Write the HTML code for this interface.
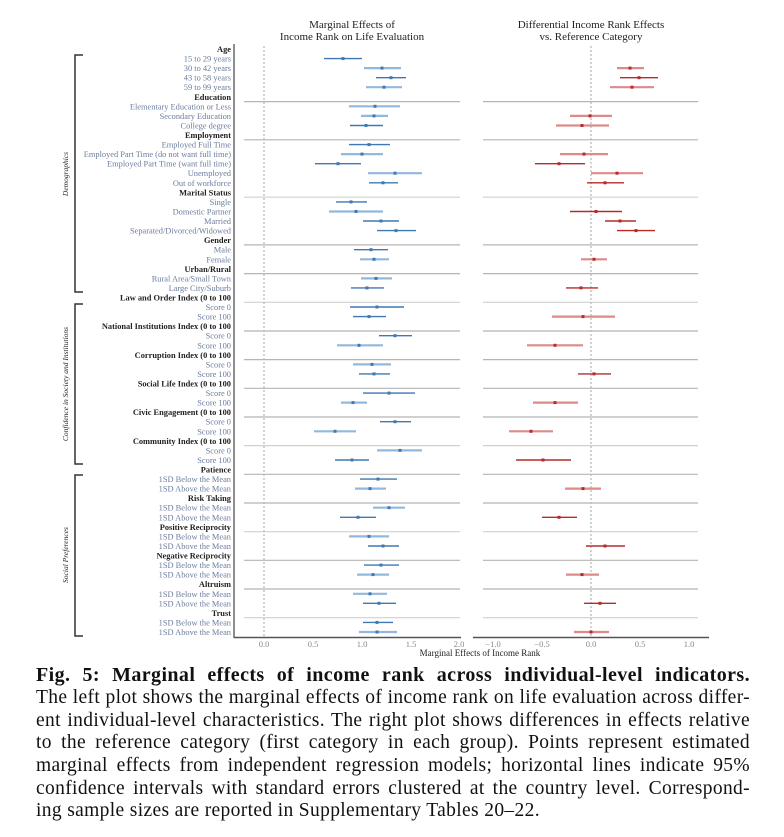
<!DOCTYPE html>
<html><head><meta charset="utf-8"><style>
html,body{margin:0;padding:0;background:#fff;}
body{width:784px;height:837px;position:relative;overflow:hidden;font-family:"Liberation Serif",serif;}
svg{position:absolute;left:0;top:0;}
.cap{position:absolute;left:36px;width:714px;font-size:19.5px;letter-spacing:0.35px;line-height:22.7px;color:#111;text-align:justify;text-align-last:justify;white-space:nowrap;}
</style></head><body>
<svg width="784" height="660" viewBox="0 0 784 660" font-family="Liberation Serif, serif">
<g font-size="11" fill="#222" text-anchor="middle">
<text x="352" y="28">Marginal Effects of</text>
<text x="352" y="40">Income Rank on Life Evaluation</text>
<text x="591" y="28">Differential Income Rank Effects</text>
<text x="591" y="40">vs. Reference Category</text>
</g>
<g stroke="#b5b5b5" stroke-width="1.2">
<line x1="244" x2="460" y1="101.6" y2="101.6"/><line x1="483" x2="698" y1="101.6" y2="101.6"/>
<line x1="244" x2="460" y1="139.8" y2="139.8"/><line x1="483" x2="698" y1="139.8" y2="139.8"/>
<line x1="244" x2="460" y1="197.2" y2="197.2" stroke="#d0d0d0"/><line x1="483" x2="698" y1="197.2" y2="197.2" stroke="#d0d0d0"/>
<line x1="244" x2="460" y1="244.9" y2="244.9"/><line x1="483" x2="698" y1="244.9" y2="244.9"/>
<line x1="244" x2="460" y1="273.6" y2="273.6"/><line x1="483" x2="698" y1="273.6" y2="273.6"/>
<line x1="244" x2="460" y1="302.3" y2="302.3" stroke="#d0d0d0"/><line x1="483" x2="698" y1="302.3" y2="302.3" stroke="#d0d0d0"/>
<line x1="244" x2="460" y1="331" y2="331"/><line x1="483" x2="698" y1="331" y2="331"/>
<line x1="244" x2="460" y1="359.6" y2="359.6"/><line x1="483" x2="698" y1="359.6" y2="359.6"/>
<line x1="244" x2="460" y1="388.3" y2="388.3"/><line x1="483" x2="698" y1="388.3" y2="388.3"/>
<line x1="244" x2="460" y1="417" y2="417"/><line x1="483" x2="698" y1="417" y2="417"/>
<line x1="244" x2="460" y1="445.6" y2="445.6" stroke="#d0d0d0"/><line x1="483" x2="698" y1="445.6" y2="445.6" stroke="#d0d0d0"/>
<line x1="244" x2="460" y1="474.3" y2="474.3"/><line x1="483" x2="698" y1="474.3" y2="474.3"/>
<line x1="244" x2="460" y1="503" y2="503"/><line x1="483" x2="698" y1="503" y2="503"/>
<line x1="244" x2="460" y1="531.7" y2="531.7" stroke="#d0d0d0"/><line x1="483" x2="698" y1="531.7" y2="531.7" stroke="#d0d0d0"/>
<line x1="244" x2="460" y1="560.3" y2="560.3"/><line x1="483" x2="698" y1="560.3" y2="560.3"/>
<line x1="244" x2="460" y1="589" y2="589"/><line x1="483" x2="698" y1="589" y2="589"/>
<line x1="244" x2="460" y1="617.7" y2="617.7" stroke="#d0d0d0"/><line x1="483" x2="698" y1="617.7" y2="617.7" stroke="#d0d0d0"/>
</g>
<line x1="264" x2="264" y1="46" y2="636" stroke="#bbb" stroke-width="1.3" stroke-dasharray="2,2"/>
<line x1="591" x2="591" y1="46" y2="636" stroke="#bbb" stroke-width="1.3" stroke-dasharray="2,2"/>
<line x1="234" x2="234" y1="44" y2="638" stroke="#444" stroke-width="1.2"/>
<line x1="234" x2="461" y1="637.5" y2="637.5" stroke="#555" stroke-width="1.5"/>
<line x1="473" x2="709" y1="637.5" y2="637.5" stroke="#555" stroke-width="1.5"/>
<g font-size="8.5" fill="#888" text-anchor="middle">
<text x="264" y="647">0.0</text><text x="313" y="647">0.5</text><text x="362" y="647">1.0</text><text x="411" y="647">1.5</text><text x="459" y="647">2.0</text>
<text x="493" y="647">−1.0</text><text x="542" y="647">−0.5</text><text x="591" y="647">0.0</text><text x="640" y="647">0.5</text><text x="689" y="647">1.0</text>
</g>
<text x="480" y="656" font-size="9" fill="#222" text-anchor="middle">Marginal Effects of Income Rank</text>
<g stroke="#333" stroke-width="1.5" fill="none">
<path d="M83,55 H75 V292 H83"/>
<path d="M83,304 H75 V464 H83"/>
<path d="M83,475 H75 V636 H83"/>
</g>
<g font-size="7.5" font-style="italic" fill="#222" text-anchor="middle">
<text transform="translate(68,174) rotate(-90)">Demographics</text>
<text transform="translate(68,384) rotate(-90)">Confidence in Society and Institutions</text>
<text transform="translate(68,555) rotate(-90)">Social Preferences</text>
</g>
<g font-size="8.4" text-anchor="end" fill="#6b7d9e">
<g font-weight="bold" fill="#222">
<text x="231" y="52">Age</text>
<text x="231" y="99.8">Education</text>
<text x="231" y="138">Employment</text>
<text x="231" y="195.4">Marital Status</text>
<text x="231" y="243.1">Gender</text>
<text x="231" y="271.8">Urban/Rural</text>
<text x="231" y="300.5">Law and Order Index (0 to 100</text>
<text x="231" y="329.2">National Institutions Index (0 to 100</text>
<text x="231" y="357.8">Corruption Index (0 to 100</text>
<text x="231" y="386.5">Social Life Index (0 to 100</text>
<text x="231" y="415.2">Civic Engagement (0 to 100</text>
<text x="231" y="443.8">Community Index (0 to 100</text>
<text x="231" y="472.5">Patience</text>
<text x="231" y="501.2">Risk Taking</text>
<text x="231" y="529.9">Positive Reciprocity</text>
<text x="231" y="558.5">Negative Reciprocity</text>
<text x="231" y="587.2">Altruism</text>
<text x="231" y="615.9">Trust</text>
</g>
<text x="231" y="61.6">15 to 29 years</text>
<text x="231" y="71.1">30 to 42 years</text>
<text x="231" y="80.7">43 to 58 years</text>
<text x="231" y="90.2">59 to 99 years</text>
<text x="231" y="109.3">Elementary Education or Less</text>
<text x="231" y="118.9">Secondary Education</text>
<text x="231" y="128.5">College degree</text>
<text x="231" y="147.6">Employed Full Time</text>
<text x="231" y="157.1">Employed Part Time (do not want full time)</text>
<text x="231" y="166.7">Employed Part Time (want full time)</text>
<text x="231" y="176.2">Unemployed</text>
<text x="231" y="185.8">Out of workforce</text>
<text x="231" y="204.9">Single</text>
<text x="231" y="214.5">Domestic Partner</text>
<text x="231" y="224">Married</text>
<text x="231" y="233.6">Separated/Divorced/Widowed</text>
<text x="231" y="252.7">Male</text>
<text x="231" y="262.3">Female</text>
<text x="231" y="281.4">Rural Area/Small Town</text>
<text x="231" y="290.9">Large City/Suburb</text>
<text x="231" y="310">Score 0</text>
<text x="231" y="319.6">Score 100</text>
<text x="231" y="338.7">Score 0</text>
<text x="231" y="348.3">Score 100</text>
<text x="231" y="367.4">Score 0</text>
<text x="231" y="376.9">Score 100</text>
<text x="231" y="396.1">Score 0</text>
<text x="231" y="405.6">Score 100</text>
<text x="231" y="424.7">Score 0</text>
<text x="231" y="434.3">Score 100</text>
<text x="231" y="453.4">Score 0</text>
<text x="231" y="463">Score 100</text>
<text x="231" y="482.1">1SD Below the Mean</text>
<text x="231" y="491.6">1SD Above the Mean</text>
<text x="231" y="510.7">1SD Below the Mean</text>
<text x="231" y="520.3">1SD Above the Mean</text>
<text x="231" y="539.4">1SD Below the Mean</text>
<text x="231" y="549">1SD Above the Mean</text>
<text x="231" y="568.1">1SD Below the Mean</text>
<text x="231" y="577.6">1SD Above the Mean</text>
<text x="231" y="596.8">1SD Below the Mean</text>
<text x="231" y="606.3">1SD Above the Mean</text>
<text x="231" y="625.4">1SD Below the Mean</text>
<text x="231" y="635">1SD Above the Mean</text>
</g>
<g stroke="#3f78b2" stroke-width="1.4">
<line x1="324" x2="362" y1="58.6" y2="58.6"/>
<line x1="376" x2="406" y1="77.7" y2="77.7"/>
<line x1="350" x2="383" y1="125.5" y2="125.5"/>
<line x1="349" x2="390" y1="144.6" y2="144.6"/>
<line x1="315" x2="361" y1="163.7" y2="163.7"/>
<line x1="369" x2="398" y1="182.8" y2="182.8"/>
<line x1="336" x2="367" y1="201.9" y2="201.9"/>
<line x1="363" x2="399" y1="221" y2="221"/>
<line x1="377" x2="416" y1="230.6" y2="230.6"/>
<line x1="354" x2="388" y1="249.7" y2="249.7"/>
<line x1="351" x2="384" y1="287.9" y2="287.9"/>
<line x1="350" x2="404" y1="307" y2="307"/>
<line x1="353" x2="386" y1="316.6" y2="316.6"/>
<line x1="379" x2="412" y1="335.7" y2="335.7"/>
<line x1="359" x2="390" y1="373.9" y2="373.9"/>
<line x1="363" x2="415" y1="393.1" y2="393.1"/>
<line x1="380" x2="411" y1="421.7" y2="421.7"/>
<line x1="335" x2="369" y1="460" y2="460"/>
<line x1="360" x2="397" y1="479.1" y2="479.1"/>
<line x1="340" x2="376" y1="517.3" y2="517.3"/>
<line x1="368" x2="399" y1="546" y2="546"/>
<line x1="364" x2="399" y1="565.1" y2="565.1"/>
<line x1="363" x2="396" y1="603.3" y2="603.3"/>
<line x1="363" x2="393" y1="622.4" y2="622.4"/>
</g>
<g stroke="#93b8de" stroke-width="2.2">
<line x1="364" x2="401" y1="68.1" y2="68.1"/>
<line x1="366" x2="402" y1="87.2" y2="87.2"/>
<line x1="349" x2="400" y1="106.3" y2="106.3"/>
<line x1="361" x2="388" y1="115.9" y2="115.9"/>
<line x1="341" x2="383" y1="154.1" y2="154.1"/>
<line x1="368" x2="422" y1="173.2" y2="173.2"/>
<line x1="329" x2="383" y1="211.5" y2="211.5"/>
<line x1="360" x2="389" y1="259.3" y2="259.3"/>
<line x1="361" x2="392" y1="278.4" y2="278.4"/>
<line x1="337" x2="383" y1="345.3" y2="345.3"/>
<line x1="353" x2="391" y1="364.4" y2="364.4"/>
<line x1="341" x2="367" y1="402.6" y2="402.6"/>
<line x1="314" x2="356" y1="431.3" y2="431.3"/>
<line x1="377" x2="422" y1="450.4" y2="450.4"/>
<line x1="355" x2="386" y1="488.6" y2="488.6"/>
<line x1="373" x2="405" y1="507.7" y2="507.7"/>
<line x1="349" x2="389" y1="536.4" y2="536.4"/>
<line x1="357" x2="389" y1="574.6" y2="574.6"/>
<line x1="353" x2="387" y1="593.8" y2="593.8"/>
<line x1="359" x2="397" y1="632" y2="632"/>
</g>
<g fill="#3f78b2">
<rect x="341.5" y="57.1" width="3" height="3"/><rect x="380.5" y="66.6" width="3" height="3"/><rect x="389.5" y="76.2" width="3" height="3"/><rect x="382.5" y="85.7" width="3" height="3"/>
<rect x="373.5" y="104.8" width="3" height="3"/><rect x="372.5" y="114.4" width="3" height="3"/><rect x="364.5" y="124" width="3" height="3"/>
<rect x="367.5" y="143.1" width="3" height="3"/><rect x="360.5" y="152.6" width="3" height="3"/><rect x="336.5" y="162.2" width="3" height="3"/><rect x="393.5" y="171.7" width="3" height="3"/><rect x="381.5" y="181.3" width="3" height="3"/>
<rect x="349.5" y="200.4" width="3" height="3"/><rect x="354.5" y="210" width="3" height="3"/><rect x="379.5" y="219.5" width="3" height="3"/><rect x="394.5" y="229.1" width="3" height="3"/>
<rect x="369.5" y="248.2" width="3" height="3"/><rect x="372.5" y="257.8" width="3" height="3"/><rect x="374.5" y="276.9" width="3" height="3"/><rect x="365.5" y="286.4" width="3" height="3"/>
<rect x="375.5" y="305.5" width="3" height="3"/><rect x="367.5" y="315.1" width="3" height="3"/><rect x="393.5" y="334.2" width="3" height="3"/><rect x="357.5" y="343.8" width="3" height="3"/>
<rect x="370.5" y="362.9" width="3" height="3"/><rect x="372.5" y="372.4" width="3" height="3"/><rect x="387.5" y="391.6" width="3" height="3"/><rect x="351.5" y="401.1" width="3" height="3"/>
<rect x="393.5" y="420.2" width="3" height="3"/><rect x="333.5" y="429.8" width="3" height="3"/><rect x="398.5" y="448.9" width="3" height="3"/><rect x="350.5" y="458.5" width="3" height="3"/>
<rect x="376.5" y="477.6" width="3" height="3"/><rect x="368.5" y="487.1" width="3" height="3"/><rect x="387.5" y="506.2" width="3" height="3"/><rect x="356.5" y="515.8" width="3" height="3"/>
<rect x="367.5" y="534.9" width="3" height="3"/><rect x="381.5" y="544.5" width="3" height="3"/><rect x="379.5" y="563.6" width="3" height="3"/><rect x="371.5" y="573.1" width="3" height="3"/>
<rect x="368.5" y="592.3" width="3" height="3"/><rect x="377.5" y="601.8" width="3" height="3"/><rect x="375.5" y="620.9" width="3" height="3"/><rect x="375.5" y="630.5" width="3" height="3"/>
</g>
<g stroke="#b82a2a" stroke-width="1.4">
<line x1="620" x2="658" y1="77.7" y2="77.7"/>
<line x1="535" x2="585" y1="163.7" y2="163.7"/>
<line x1="587" x2="624" y1="182.8" y2="182.8"/>
<line x1="570" x2="622" y1="211.5" y2="211.5"/>
<line x1="605" x2="636" y1="221" y2="221"/>
<line x1="617" x2="655" y1="230.6" y2="230.6"/>
<line x1="566" x2="598" y1="287.9" y2="287.9"/>
<line x1="578" x2="611" y1="373.9" y2="373.9"/>
<line x1="516" x2="571" y1="460" y2="460"/>
<line x1="542" x2="577" y1="517.3" y2="517.3"/>
<line x1="586" x2="625" y1="546" y2="546"/>
<line x1="584" x2="616" y1="603.3" y2="603.3"/>
</g>
<g stroke="#dc8a8a" stroke-width="2.2">
<line x1="617" x2="644" y1="68.1" y2="68.1"/>
<line x1="610" x2="654" y1="87.2" y2="87.2"/>
<line x1="570" x2="612" y1="115.9" y2="115.9"/>
<line x1="556" x2="609" y1="125.5" y2="125.5"/>
<line x1="560" x2="608" y1="154.1" y2="154.1"/>
<line x1="591" x2="643" y1="173.2" y2="173.2"/>
<line x1="581" x2="607" y1="259.3" y2="259.3"/>
<line x1="552" x2="615" y1="316.6" y2="316.6"/>
<line x1="527" x2="583" y1="345.3" y2="345.3"/>
<line x1="533" x2="578" y1="402.6" y2="402.6"/>
<line x1="509" x2="553" y1="431.3" y2="431.3"/>
<line x1="565" x2="601" y1="488.6" y2="488.6"/>
<line x1="566" x2="599" y1="574.6" y2="574.6"/>
<line x1="574" x2="609" y1="632" y2="632"/>
</g>
<g fill="#b82a2a">
<rect x="628.5" y="66.6" width="3" height="3"/><rect x="637.5" y="76.2" width="3" height="3"/><rect x="630.5" y="85.7" width="3" height="3"/>
<rect x="588.5" y="114.4" width="3" height="3"/><rect x="580.5" y="124" width="3" height="3"/>
<rect x="582.5" y="152.6" width="3" height="3"/><rect x="557.5" y="162.2" width="3" height="3"/><rect x="615.5" y="171.7" width="3" height="3"/><rect x="603.5" y="181.3" width="3" height="3"/>
<rect x="594.5" y="210" width="3" height="3"/><rect x="618.5" y="219.5" width="3" height="3"/><rect x="634.5" y="229.1" width="3" height="3"/>
<rect x="592.5" y="257.8" width="3" height="3"/><rect x="579.5" y="286.4" width="3" height="3"/>
<rect x="581.5" y="315.1" width="3" height="3"/><rect x="553.5" y="343.8" width="3" height="3"/><rect x="592.5" y="372.4" width="3" height="3"/><rect x="553.5" y="401.1" width="3" height="3"/>
<rect x="529.5" y="429.8" width="3" height="3"/><rect x="541.5" y="458.5" width="3" height="3"/>
<rect x="581.5" y="487.1" width="3" height="3"/><rect x="557.5" y="515.8" width="3" height="3"/><rect x="603.5" y="544.5" width="3" height="3"/><rect x="580.5" y="573.1" width="3" height="3"/><rect x="598.5" y="601.8" width="3" height="3"/><rect x="589.5" y="630.5" width="3" height="3"/>
</g>
</svg>
<div class="cap" style="top:664px;font-weight:bold;font-size:20px;letter-spacing:0.4px;">Fig. 5: Marginal effects of income rank across individual-level indicators.</div>
<div class="cap" style="top:687px;">The left plot shows the marginal effects of income rank on life evaluation across differ-</div>
<div class="cap" style="top:709.5px;">ent individual-level characteristics. The right plot shows differences in effects relative</div>
<div class="cap" style="top:732px;">to the reference category (first category in each group). Points represent estimated</div>
<div class="cap" style="top:755px;">marginal effects from independent regression models; horizontal lines indicate 95%</div>
<div class="cap" style="top:778px;">confidence intervals with standard errors clustered at the country level. Correspond-</div>
<div class="cap" style="top:800px;text-align-last:left;">ing sample sizes are reported in Supplementary Tables 20–22.</div>
</body></html>
